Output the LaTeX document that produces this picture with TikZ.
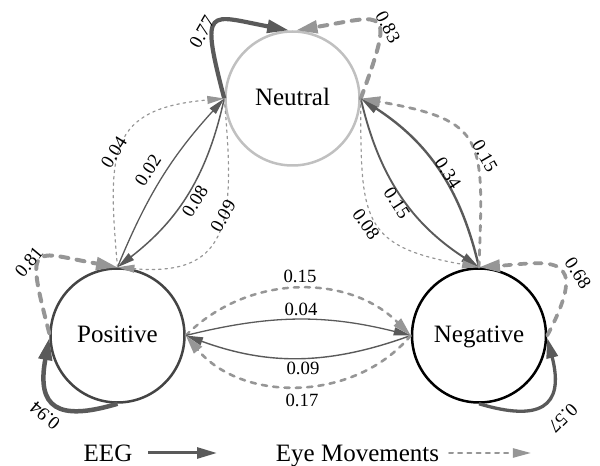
\documentclass[tikz,border=0pt]{standalone}
\usepackage{fontspec}
\setmainfont{Liberation Serif}
\usetikzlibrary{arrows.meta}

\begin{document}
\begin{tikzpicture}[x=1pt, y=1pt]
            \definecolor{eegcolor}{RGB}{90, 90, 90}
            \definecolor{eyecolor}{RGB}{150, 150, 150}
            \definecolor{neutralcolor}{RGB}{192, 192, 192}
            \definecolor{positivecolor}{RGB}{68, 68, 68}
            \def\nodesize{134pt}
            \tikzset{
                state/.style={draw, shape=circle, line width=2.5pt, minimum size=\nodesize, inner sep=0pt, text height=14pt, text depth=0pt, font=\fontsize{25}{30}\selectfont},
                eeg/.style={draw=eegcolor, line width=#1, -{Triangle[length=15pt 1.6, width=6pt 1.6]}},
                eye/.style={draw=eyecolor, line width=#1, line cap=round, dash pattern=on 2*#1 off 2pt+1.6*#1, -{Triangle[length=15pt 1.6, width=6pt 1.6]}},
                prob/.style={inner sep=0pt, font=\fontsize{18.7}{20}\selectfont},
                legend/.style={inner sep=0pt, anchor=base, font=\fontsize{25}{30}\selectfont}
            }
            \useasboundingbox (0, 0) rectangle (600, 466);
            \node[state, draw=neutralcolor] (neutral) at (292.5, 367.5) {Neutral};
            \node[state, draw=positivecolor] (positive) at (117.5, 130.5) {Positive};
            \node[state, draw=black] (negative) at (479, 130.5) {Negative};
            \draw[eeg=4.2pt] (neutral.west) .. controls +(-25, 95) and +(-80, 15) .. (neutral.93);
            \draw[eye=4pt] (neutral.east) .. controls +(35, 95) and +(90, 15) .. (neutral.87);
            \draw[eye=4pt] (positive.178) .. controls +(-25, 95) and +(-85, 15) .. (positive.north);
            \draw[eeg=4.5pt] (positive.south) .. controls +(-60, -18) and +(-13, -70) .. (positive.182);
            \draw[eye=3.7pt] (negative.east) .. controls +(45, 85) and +(70, 5) .. (negative.north);
            \draw[eeg=3.3pt] (negative.south) .. controls +(60, -18) and +(18, -70) .. (negative.358);
            \draw[eeg=1.3pt] (positive.north) to[bend left=10] (neutral.west);
            \draw[eeg=1.5pt] (neutral.west) to[bend left=20] (positive.north);
            \draw[eye=1.2pt] (positive.north) to[out=95, in=185, looseness=1.5] (neutral.west);
            \draw[eye=1.2pt] (neutral.west) to[out=-85, in=-5, looseness=1.5] (positive.north);
            \draw[eeg=2.4pt] (negative.north) to[bend right=22] (neutral.east);
            \draw[eeg=1.9pt] (neutral.east) to[bend right=22] (negative.north);
            \draw[eye=2.8pt] (negative.north) to[out=88, in=-10, looseness=1.6] (neutral.east);
            \draw[eye=1.2pt] (neutral.east) to[out=-90, in=170, looseness=1.5] (negative.north);
            \draw[eye=2.5pt] (positive.east) to[bend left=45] (negative.west);
            \draw[eeg=1.3pt] (positive.east) to[bend left=14] (negative.west);
            \draw[eeg=1.4pt] (negative.west) to[bend left=20] (positive.east);
            \draw[eye=2.6pt] (negative.west) to[bend left=50] (positive.east);
            \node[prob, rotate=60] (p77) at (202, 434) {0.77};
            \node[prob, rotate=-62] (p83) at (388, 439) {0.83};
            \node[prob, rotate=50] (p81) at (29, 204) {0.81};
            \node[prob, rotate=140] (p94) at (45, 50) {0.94};
            \node[prob, rotate=-57] (p68) at (578, 193) {0.68};
            \node[prob, rotate=225] (p57) at (563, 48) {0.57};
            \node[prob, rotate=58] (p04a) at (114, 314) {0.04};
            \node[prob, rotate=57] (p02) at (148, 296) {0.02};
            \node[prob, rotate=58] (p08a) at (195, 265) {0.08};
            \node[prob, rotate=60] (p09a) at (223, 250) {0.09};
            \node[prob, rotate=-57] (p34) at (448, 293) {0.34};
            \node[prob, rotate=-57] (p15a) at (397, 263) {0.15};
            \node[prob, rotate=-60] (p15b) at (485, 310) {0.15};
            \node[prob, rotate=-55] (p08b) at (366, 242) {0.08};
            \node[prob] (p15c) at (300, 190) {0.15};
            \node[prob] (p04b) at (301, 157) {0.04};
            \node[prob] (p09b) at (303, 98) {0.09};
            \node[prob] (p17) at (302, 66) {0.17};
            \node[legend] (eeg) at (108, 4) {EEG};
            \coordinate (eegstart) at (148, 13);
            \coordinate (eegend) at (217, 13);
            \draw[eeg=3pt] (eegstart) -- (eegend);
            \node[legend] (eye) at (357.5, 4) {Eye Movements};
            \coordinate (eyestart) at (449, 13);
            \coordinate (eyeend) at (531, 13);
            \draw[eye=2pt] (eyestart) -- (eyeend);
        \end{tikzpicture}
\end{document}
